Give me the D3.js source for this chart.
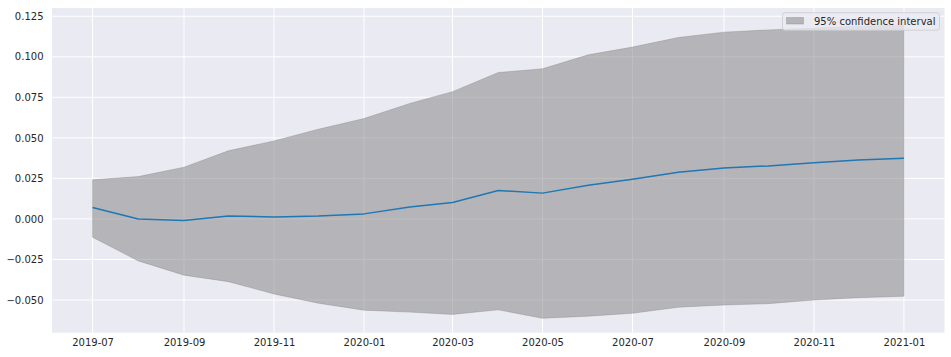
<!DOCTYPE html>
<html>
<head>
<meta charset="utf-8">
<script src="https://cdn.jsdelivr.net/npm/d3@7"></script>
<style>
  html, body { margin: 0; padding: 0; background: #ffffff; }
  svg { display: block; }
  text { font-family: "DejaVu Sans", sans-serif; }
</style>
</head>
<body>
<svg id="chart" width="951" height="357"></svg>
<script>
// ---- data ----
const months = ["2019-07","2019-08","2019-09","2019-10","2019-11","2019-12",
  "2020-01","2020-02","2020-03","2020-04","2020-05","2020-06",
  "2020-07","2020-08","2020-09","2020-10","2020-11","2020-12","2021-01"];
const meanValues = [0.0070, 0.0000, -0.0010, 0.0018, 0.0012, 0.0018,
  0.0031, 0.0074, 0.0101, 0.0175, 0.0159, 0.0207,
  0.0244, 0.0288, 0.0314, 0.0327, 0.0347, 0.0364, 0.0374];
const upperValues = [0.0241, 0.0261, 0.0319, 0.0420, 0.0481, 0.0553,
  0.0619, 0.0712, 0.0785, 0.0903, 0.0926, 0.1012,
  0.1060, 0.1119, 0.1152, 0.1166, 0.1177, 0.1188, 0.1195];
const lowerValues = [-0.0113, -0.0259, -0.0347, -0.0387, -0.0463, -0.0520,
  -0.0563, -0.0575, -0.0589, -0.0561, -0.0613, -0.0600,
  -0.0582, -0.0545, -0.0531, -0.0523, -0.0500, -0.0486, -0.0477];
const yTicks = [-0.05, -0.025, 0, 0.025, 0.05, 0.075, 0.1, 0.125];
const xTickLabels = ["2019-07","2019-09","2019-11","2020-01","2020-03","2020-05","2020-07","2020-09","2020-11","2021-01"];
const legendLabel = "95% confidence interval";

// ---- layout ----
const svg = d3.select("#chart");
const pL = 52, pR = 944.5, pT = 8, pB = 332.7;
const parse = d3.utcParse("%Y-%m");
const dates = months.map(parse);
const pad = 27.5 * 86400000;
const x = d3.scaleUtc()
  .domain([new Date(dates[0].getTime() - pad), new Date(dates[dates.length-1].getTime() + pad)])
  .range([pL, pR]);
const y = d3.scaleLinear().domain([-0.0702, 0.1301]).range([pB, pT]);

const data = dates.map((d, i) => ({d, m: meanValues[i], lo: lowerValues[i], hi: upperValues[i]}));

// background
svg.append("rect").attr("x", pL).attr("y", pT)
  .attr("width", pR - pL).attr("height", pB - pT).attr("fill", "#EAEAF2");

// grid
const g = svg.append("g");
g.selectAll(".hg").data(yTicks).join("line")
  .attr("x1", pL).attr("x2", pR)
  .attr("y1", d => y(d)).attr("y2", d => y(d))
  .attr("stroke", "#ffffff").attr("stroke-width", 1);
const xTickDates = xTickLabels.map(parse);
g.selectAll(".vg").data(xTickDates).join("line")
  .attr("y1", pT).attr("y2", pB)
  .attr("x1", d => x(d)).attr("x2", d => x(d))
  .attr("stroke", "#ffffff").attr("stroke-width", 1);

// confidence band
const area = d3.area().x(d => x(d.d)).y0(d => y(d.lo)).y1(d => y(d.hi));
svg.append("path").datum(data).attr("d", area)
  .attr("fill", "rgb(128,128,128)").attr("fill-opacity", 0.5)
  .attr("stroke", "rgb(128,128,128)").attr("stroke-opacity", 0.35).attr("stroke-width", 1);

// mean line
const line = d3.line().x(d => x(d.d)).y(d => y(d.m));
svg.append("path").datum(data).attr("d", line)
  .attr("fill", "none").attr("stroke", "#1f77b4").attr("stroke-width", 1.5)
  .attr("stroke-linejoin", "round");

// axes (labels only, no tick marks, no spine)
const fmtY = v => (v < 0 ? "\u2212" : "") + Math.abs(v).toFixed(3);
const yAxis = d3.axisLeft(y).tickValues(yTicks).tickFormat(fmtY).tickSize(0).tickPadding(8.5);
const ya = svg.append("g").attr("transform", `translate(${pL},0)`).call(yAxis);
const xFmt = d3.utcFormat("%Y-%m");
const xAxis = d3.axisBottom(x).tickValues(xTickDates).tickFormat(xFmt).tickSize(0).tickPadding(6.2);
const xa = svg.append("g").attr("transform", `translate(0,${pB})`).call(xAxis);
[ya, xa].forEach(a => {
  a.select(".domain").remove();
  a.selectAll("text").attr("fill", "#262626")
    .style("font-family", "'DejaVu Sans', sans-serif").style("font-size", "10px");
});

// legend
const lg = svg.append("g");
lg.append("rect").attr("x", 782.5).attr("y", 12.7).attr("width", 157).attr("height", 17.5)
  .attr("rx", 2.5).attr("fill", "#EAEAF2").attr("fill-opacity", 0.8)
  .attr("stroke", "#cccccc").attr("stroke-opacity", 0.8).attr("stroke-width", 1);
lg.append("rect").attr("x", 786.5).attr("y", 17.5).attr("width", 17).attr("height", 6.5)
  .attr("fill", "rgb(128,128,128)").attr("fill-opacity", 0.5)
  .attr("stroke", "rgb(128,128,128)").attr("stroke-opacity", 0.35);
lg.append("text").attr("x", 814).attr("y", 21.5).attr("dy", "0.35em")
  .attr("fill", "#262626").style("font-size", "10px").text(legendLabel);
</script>
</body>
</html>
